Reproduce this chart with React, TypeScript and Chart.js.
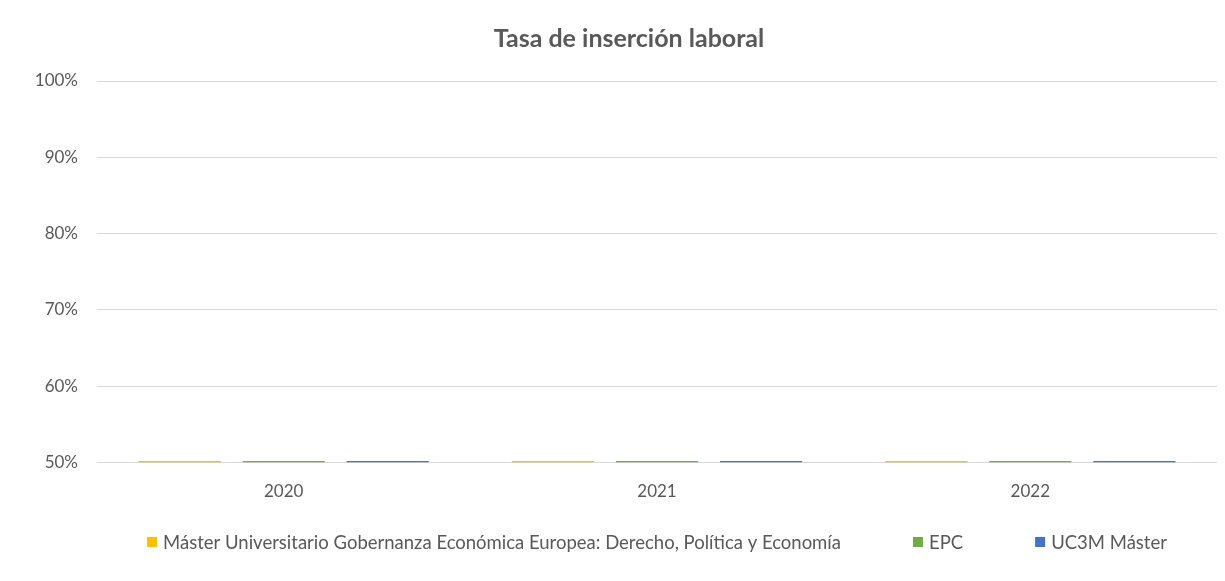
import React, { useEffect, useRef } from "react";
import { Chart, registerables } from "chart.js";

Chart.register(...registerables);

const categories = ["2020", "2021", "2022"];
const masterValues = [0, 0, 0];
const epcValues = [0, 0, 0];
const uc3mValues = [0, 0, 0];
const seriesNames = [
  "Máster Universitario Gobernanza Económica Europea: Derecho, Política y Economía",
  "EPC",
  "UC3M Máster",
];
const seriesColors = ["#FFC000", "#70AD47", "#4472C4"];
const titleText = "Tasa de inserción laboral";
const yMin = 50;
const yMax = 100;
const yStep = 10;

const FONT = "Lato, 'Open Sans', sans-serif";
const TEXT = "#595959";

const legendPlugin = {
  id: "bottomLegend",
  afterDraw(chart: any) {
    const ctx = chart.ctx;
    const area = chart.chartArea;
    const fontSize = 18.5;
    const box = 10;
    const gap = 6;
    const spacing = 72;
    ctx.save();
    ctx.font = `${fontSize}px ${FONT}`;
    const items = chart.data.datasets.map((d: any) => ({
      text: d.label,
      color: d.backgroundColor,
      w: ctx.measureText(d.label).width,
    }));
    const total =
      items.reduce((s: number, it: any) => s + box + gap + it.w, 0) +
      spacing * (items.length - 1);
    let x = (area.left + area.right) / 2 - total / 2;
    const y = 534;
    ctx.textBaseline = "middle";
    ctx.textAlign = "left";
    for (const it of items) {
      ctx.fillStyle = it.color;
      ctx.fillRect(x, y - box / 2, box, box);
      ctx.fillStyle = TEXT;
      ctx.fillText(it.text, x + box + gap, y + 1);
      x += box + gap + it.w + spacing;
    }
    ctx.restore();
  },
};

export default function App() {
  const ref = useRef<HTMLCanvasElement | null>(null);
  useEffect(() => {
    if (!ref.current) return;
    const all = [masterValues, epcValues, uc3mValues];
    const chart = new Chart(ref.current, {
      type: "bar",
      data: {
        labels: categories,
        datasets: all.map((vals, i) => ({
          label: seriesNames[i],
          data: vals,
          backgroundColor: seriesColors[i],
          borderWidth: 0,
          minBarLength: 1.5,
          barPercentage: 0.79,
          categoryPercentage: 0.836,
        })),
      },
      options: {
        animation: false,
        responsive: false,
        maintainAspectRatio: false,
        layout: { padding: { left: 0, right: 0, top: 0, bottom: 60 } },
        plugins: {
          legend: { display: false },
          tooltip: { enabled: false },
          title: {
            display: true,
            text: titleText,
            color: TEXT,
            font: { family: FONT, size: 25, weight: "bold" },
            padding: { top: 16, bottom: 27 },
          },
        },
        scales: {
          x: {
            grid: { display: false, drawTicks: false },
            border: { display: false },
            ticks: {
              color: TEXT,
              font: { family: FONT, size: 17 },
              padding: 19,
            },
          },
          y: {
            min: yMin,
            max: yMax,
            grid: { color: "#d9d9d9", drawTicks: false, lineWidth: 1 },
            border: { display: false },
            ticks: {
              stepSize: yStep,
              color: TEXT,
              font: { family: FONT, size: 17 },
              padding: 19,
              callback: (v: any) => `${v}%`,
            },
            afterFit: (scale: any) => {
              scale.width = 89;
            },
          },
          yRight: {
            position: "right",
            min: yMin,
            max: yMax,
            grid: { display: false, drawTicks: false },
            border: { display: false },
            ticks: { display: false },
            afterFit: (scale: any) => {
              scale.width = 33;
            },
          },
        },
      },
      plugins: [legendPlugin],
    });
    return () => chart.destroy();
  }, []);
  return (
    <div
      style={{
        marginLeft: -1,
        marginTop: -1,
        width: 1218,
        height: 574,
        overflow: "hidden",
        borderLeft: "1px solid #d9d9d9",
        borderTop: "1px solid #d9d9d9",
        boxSizing: "border-box",
        background: "#fff",
      }}
    >
      <canvas ref={ref} width={1242} height={573} style={{ display: "block" }} />
    </div>
  );
}
